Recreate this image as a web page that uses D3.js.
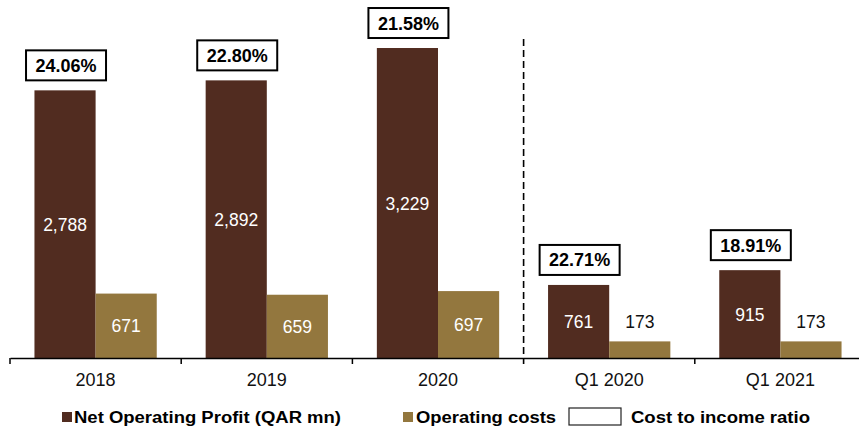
<!DOCTYPE html>
<html>
<head>
<meta charset="utf-8">
<script src="https://cdn.jsdelivr.net/npm/d3@7"></script>
<style>
  body { margin: 0; background: #fff; }
  text { font-family: "Liberation Sans", Arial, sans-serif; }
</style>
</head>
<body>
<script>
const categories = ["2018", "2019", "2020", "Q1 2020", "Q1 2021"];
const netProfit = [2788, 2892, 3229, 761, 915];
const opCosts = [671, 659, 697, 173, 173];
const costIncome = ["24.06%", "22.80%", "21.58%", "22.71%", "18.91%"];
const seriesNames = ["Net Operating Profit (QAR mn)", "Operating costs", "Cost to income ratio"];

const width = 859, height = 428;
const dark = "#512c20", gold = "#93773e";
const baseY = 358;

const svg = d3.select("body").append("svg")
    .attr("width", width)
    .attr("height", height);

const x0 = d3.scaleBand().domain(categories).range([10, 866]);
const x1 = d3.scaleBand().domain(["profit", "costs"])
    .range([0, x0.bandwidth()]).paddingOuter(0.4);
const y = d3.scaleLinear().domain([0, 3500]).range([baseY, 22]);

const rows = categories.map((c, i) => ({
  cat: c, profit: netProfit[i], costs: opCosts[i], ratio: costIncome[i]
}));

// bars
const g = svg.append("g").selectAll("g")
  .data(rows)
  .enter().append("g")
    .attr("transform", d => `translate(${x0(d.cat)},0)`);

g.append("rect")
    .attr("x", x1("profit"))
    .attr("y", d => y(d.profit))
    .attr("width", x1.bandwidth())
    .attr("height", d => baseY - y(d.profit))
    .attr("fill", dark);

g.append("rect")
    .attr("x", x1("costs"))
    .attr("y", d => y(d.costs))
    .attr("width", x1.bandwidth())
    .attr("height", d => baseY - y(d.costs))
    .attr("fill", gold);

// value labels
g.append("text")
    .attr("x", x1("profit") + x1.bandwidth() / 2)
    .attr("y", d => (y(d.profit) + baseY) / 2 + 6.5)
    .attr("text-anchor", "middle")
    .attr("font-size", 17.5)
    .attr("fill", "#fff")
    .text(d => d3.format(",")(d.profit));

g.append("text")
    .attr("x", x1("costs") + x1.bandwidth() / 2)
    .attr("y", d => baseY - y(d.costs) > 40 ? (y(d.costs) + baseY) / 2 + 6.5 : y(d.costs) - 13)
    .attr("text-anchor", "middle")
    .attr("font-size", 17.5)
    .attr("fill", d => baseY - y(d.costs) > 40 ? "#fff" : "#111")
    .text(d => d3.format(",")(d.costs));

// ratio boxes
const boxW = 80, boxH = 30;
g.append("rect")
    .attr("x", x1("profit") + x1.bandwidth() / 2 - boxW / 2 + 1)
    .attr("y", d => y(d.profit) - 10 - boxH)
    .attr("width", boxW)
    .attr("height", boxH)
    .attr("fill", "#fff")
    .attr("stroke", "#000")
    .attr("stroke-width", 2);

g.append("text")
    .attr("x", x1("profit") + x1.bandwidth() / 2 + 1)
    .attr("y", d => y(d.profit) - 10 - boxH / 2 + 6.5)
    .attr("text-anchor", "middle")
    .attr("font-size", 18)
    .attr("font-weight", "bold")
    .attr("fill", "#000")
    .text(d => d.ratio);

// axis
const axis = svg.append("g")
    .attr("transform", `translate(0,${baseY})`)
    .call(d3.axisBottom(x0).tickSize(0).tickSizeOuter(0));
axis.select(".domain").attr("stroke", "#000").attr("stroke-width", 1.5);
axis.selectAll(".tick text")
    .attr("y", 15)
    .attr("font-size", 18)
    .attr("font-family", "Liberation Sans, Arial, sans-serif")
    .attr("fill", "#111");

// boundary ticks (except where the dashed divider sits)
svg.append("g").selectAll("line")
  .data(categories.filter((c, i) => i !== 3))
  .enter().append("line")
    .attr("x1", d => x0(d)).attr("x2", d => x0(d))
    .attr("y1", baseY).attr("y2", baseY + 6)
    .attr("stroke", "#000").attr("stroke-width", 1.5);

// dashed divider between annual and quarterly
svg.append("line")
    .attr("x1", x0("Q1 2020")).attr("x2", x0("Q1 2020"))
    .attr("y1", 39).attr("y2", baseY + 6)
    .attr("stroke", "#000")
    .attr("stroke-width", 1.6)
    .attr("stroke-dasharray", "7,4");

// legend
const leg = svg.append("g");
const legY = 423;
leg.append("rect").attr("x", 62).attr("y", 412).attr("width", 10).attr("height", 10).attr("fill", dark);
leg.append("text").attr("x", 74).attr("y", legY).attr("font-size", 16).attr("font-weight", "bold")
    .attr("textLength", 267).attr("lengthAdjust", "spacingAndGlyphs").text(seriesNames[0]);
leg.append("rect").attr("x", 403).attr("y", 412).attr("width", 10).attr("height", 10).attr("fill", gold);
leg.append("text").attr("x", 416).attr("y", legY).attr("font-size", 16).attr("font-weight", "bold")
    .attr("textLength", 140).attr("lengthAdjust", "spacingAndGlyphs").text(seriesNames[1]);
leg.append("rect").attr("x", 569).attr("y", 408).attr("width", 52).attr("height", 17)
    .attr("fill", "#fff").attr("stroke", "#222").attr("stroke-width", 1.2);
leg.append("text").attr("x", 631).attr("y", legY).attr("font-size", 16).attr("font-weight", "bold")
    .attr("textLength", 179).attr("lengthAdjust", "spacingAndGlyphs").text(seriesNames[2]);
</script>
</body>
</html>
